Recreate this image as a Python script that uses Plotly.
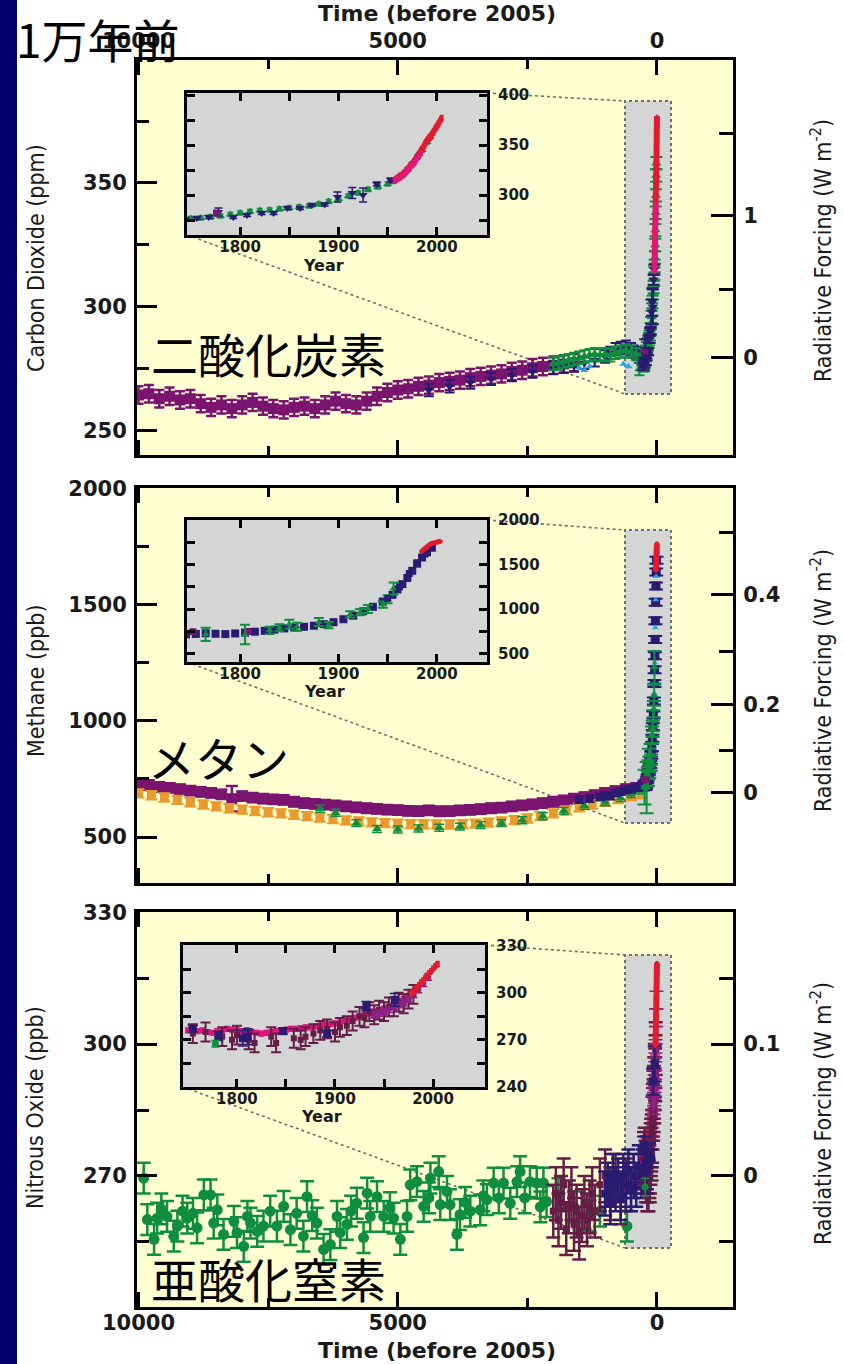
import plotly.graph_objects as go
import numpy as np

W, H = 844, 1364

# ---------------- tick labels ----------------
time_tick_vals = [10000, 5000, 0]
time_tick_text = ["10000", "5000", "0"]
time_minor_vals = [7500, 2500]
year_tick_vals = [1800, 1900, 2000]
year_tick_text = ["1800", "1900", "2000"]
year_minor_vals = [1850, 1950]

co2_left_ticks = [250, 300, 350]
co2_left_minor = [275, 325, 375]
co2_rf_tick_ppm = [279.6, 337.0]
co2_rf_tick_text = ["0", "1"]
co2_rf_minor_ppm = [307.0, 370.0]
co2_inset_ticks = [300, 350, 400]
co2_inset_minor = [275, 325, 375]

ch4_left_ticks = [500, 1000, 1500, 2000]
ch4_left_minor = [750, 1250, 1750]
ch4_rf_tick_ppb = [690, 1069, 1543]
ch4_rf_tick_text = ["0", "0.2", "0.4"]
ch4_rf_minor_ppb = [871, 1297, 1810]
ch4_inset_ticks = [500, 1000, 1500, 2000]
ch4_inset_minor = [750, 1250, 1750]

n2o_left_ticks = [270, 300, 330]
n2o_left_minor = [255, 285, 315]
n2o_rf_tick_ppb = [270, 300]
n2o_rf_tick_text = ["0", "0.1"]
n2o_rf_minor_ppb = [255, 285, 315]
n2o_inset_ticks = [240, 270, 300, 330]
n2o_inset_minor = [255, 285, 315]

# ---------------- CO2 (ppm) ----------------
co2_domec_bp = [10000, 9800, 9600, 9400, 9200, 9000, 8800, 8600, 8400, 8200, 8000, 7800, 7600, 7400,
                7200, 7000, 6800, 6600, 6400, 6200, 6000, 5800, 5600, 5400, 5200, 5000, 4800, 4600,
                4400, 4200, 4000, 3800, 3600, 3400, 3200, 3000, 2800, 2600, 2400, 2200, 2000, 1800, 1600]
co2_domec_ppm = [264.5, 265.0, 263.0, 264.0, 262.5, 263.0, 261.0, 259.5, 260.5, 259.0, 260.5, 261.5,
                 260.0, 259.0, 258.5, 259.5, 260.0, 259.0, 260.5, 262.0, 261.0, 260.5, 262.0, 264.0,
                 265.5, 266.5, 267.0, 268.0, 268.5, 269.5, 270.0, 270.5, 271.5, 272.0, 272.5, 273.0,
                 274.0, 274.5, 275.5, 276.0, 276.5, 277.0, 277.5]
co2_taylor_bp = [4400, 4000, 3600, 3200, 2800, 2400, 2000, 1800, 1600, 1400, 1200, 1000, 900, 800,
                 700, 600, 500, 450, 400, 350, 300]
co2_taylor_ppm = [266.5, 268.0, 269.5, 271.0, 272.5, 274.0, 275.5, 276.0, 276.5, 277.5, 278.5, 280.0,
                  281.5, 283.0, 283.5, 284.0, 283.0, 282.0, 281.5, 280.0, 279.0]
co2_lawlong_bp = [2000, 1900, 1800, 1700, 1600, 1500, 1400, 1300, 1200, 1100, 1000, 900, 800, 700,
                  600, 500, 400, 340, 300, 270]
co2_lawlong_ppm = [277.0, 277.5, 278.0, 278.5, 279.0, 279.5, 280.0, 280.5, 281.0, 280.5, 281.0, 280.5,
                   281.5, 282.0, 282.5, 282.0, 281.0, 275.0, 277.5, 276.5]
co2_cyan_bp = [1500, 1400, 1300, 650, 550]
co2_cyan_ppm = [275.5, 274.5, 276.0, 277.0, 276.0]

co2_law_yr = [1750, 1760, 1770, 1780, 1790, 1800, 1810, 1820, 1830, 1840, 1850, 1860, 1870, 1880, 1890,
              1900, 1910, 1920, 1930, 1940, 1950, 1955, 1960, 1965, 1970, 1975, 1980, 1985, 1990, 1993]
co2_law_ppm = [276.5, 277.0, 278.0, 279.0, 280.5, 282.0, 283.5, 284.5, 285.0, 286.0, 287.0, 288.0, 289.0,
               291.0, 293.5, 296.0, 299.0, 302.0, 305.5, 308.0, 311.0, 313.5, 316.5, 320.0, 325.0, 331.0,
               338.0, 345.0, 353.0, 358.0]
co2_siple_yr = [1744, 1756, 1768, 1778, 1793, 1807, 1822, 1834, 1848, 1861, 1873, 1886, 1899, 1914, 1925, 1939, 1953]
co2_siple_ppm = [276.0, 277.0, 278.0, 283.0, 278.0, 280.0, 282.0, 282.0, 287.0, 287.0, 290.0, 290.5, 298.0,
                 302.0, 300.0, 311.0, 315.0]
co2_siple_err = [1.5, 1.5, 1.5, 4.0, 1.5, 1.5, 1.5, 1.5, 1.5, 1.5, 1.5, 1.5, 5.0, 5.5, 7.0, 2.0, 2.0]
co2_dml_yr = [1776]
co2_dml_ppm = [282.0]
co2_ml_yr = [1958, 1959, 1960, 1961, 1962, 1963, 1964, 1965, 1966, 1967, 1968, 1969, 1970, 1971, 1972, 1973,
             1974, 1975, 1976, 1977, 1978, 1979, 1980, 1981, 1982, 1983, 1984, 1985, 1986, 1987, 1988, 1989,
             1990, 1991, 1992, 1993, 1994, 1995, 1996, 1997, 1998, 1999, 2000, 2001, 2002, 2003, 2004, 2005]
co2_ml_ppm = [315.3, 316.0, 316.9, 317.6, 318.5, 319.0, 319.6, 320.0, 321.4, 322.2, 323.0, 324.6, 325.7,
              326.3, 327.5, 329.7, 330.2, 331.1, 332.0, 333.8, 335.4, 336.8, 338.7, 339.9, 341.1, 342.8,
              344.4, 345.9, 347.2, 348.9, 351.5, 352.9, 354.2, 355.6, 356.4, 357.1, 358.8, 360.5, 362.0,
              363.2, 365.8, 367.2, 368.5, 370.0, 372.0, 373.5, 375.5, 377.0]
co2_sp_yr = [1957, 1960, 1963, 1966, 1969, 1972, 1975, 1978, 1981, 1984]
co2_sp_ppm = [314.0, 315.5, 317.5, 319.5, 322.5, 326.0, 329.5, 333.0, 337.5, 341.5]

# ---------------- CH4 (ppb) ----------------
ch4_purple_bp = [10000, 9800, 9600, 9400, 9200, 9000, 8800, 8600, 8400, 8200, 8000, 7800, 7600, 7400, 7200,
                 7000, 6800, 6600, 6400, 6200, 6000, 5800, 5600, 5400, 5200, 5000, 4800, 4600, 4400, 4200,
                 4000, 3800, 3600, 3400, 3200, 3000, 2800, 2600, 2400, 2200, 2000, 1800, 1600, 1400, 1200,
                 1000, 800, 600, 400]
ch4_purple_ppb = [728, 724, 716, 712, 706, 700, 694, 690, 684, 665, 676, 670, 665, 662, 660, 652, 646, 643,
                  640, 636, 632, 628, 624, 621, 618, 616, 613, 612, 615, 611, 612, 615, 617, 620, 624, 627,
                  632, 636, 641, 646, 652, 658, 665, 672, 680, 690, 698, 706, 712]
ch4_purple_err = [20, 20, 20, 20, 20, 20, 20, 20, 20, 55, 20, 20, 20, 20, 20, 20, 20, 20, 20, 20, 20, 20,
                  20, 20, 20, 20, 20, 20, 20, 20, 20, 20, 20, 20, 20, 20, 20, 20, 20, 20, 20, 20, 20, 20,
                  20, 20, 20, 20, 20]
ch4_orange_bp = [10000, 9750, 9500, 9250, 9000, 8750, 8500, 8250, 8000, 7750, 7500, 7250, 7000, 6750, 6500,
                 6250, 6000, 5750, 5500, 5250, 5000, 4750, 4500, 4250, 4000, 3750, 3500, 3250, 3000, 2750,
                 2500, 2250, 2000, 1750, 1500, 1250, 1000, 750, 500, 300]
ch4_orange_ppb = [688, 680, 670, 660, 650, 640, 632, 624, 618, 612, 607, 602, 596, 590, 584, 578, 572, 567,
                  563, 560, 558, 556, 555, 554, 554, 556, 558, 562, 567, 573, 580, 590, 602, 615, 628, 640,
                  652, 664, 676, 685]
ch4_green_bp = [6500, 6200, 5800, 5400, 5000, 4600, 4200, 3800, 3400, 3000, 2600, 2200, 1800, 1400, 1000,
                700, 500, 350]
ch4_green_ppb = [622, 605, 560, 535, 533, 537, 540, 545, 552, 560, 572, 590, 612, 635, 650, 668, 685, 700]
ch4_navylong_bp = [1500, 1300, 1100, 1000, 900, 800, 700, 600, 500, 400, 300]
ch4_navylong_ppb = [660, 665, 672, 680, 676, 690, 695, 702, 706, 712, 716]

ch4_navy_yr = [1745, 1755, 1765, 1775, 1785, 1795, 1805, 1815, 1825, 1835, 1845, 1855, 1865, 1875, 1885,
               1895, 1905, 1915, 1925, 1935, 1945, 1955, 1960, 1965, 1970, 1975, 1980, 1985, 1990, 1995]
ch4_navy_ppb = [715, 720, 728, 722, 718, 725, 735, 745, 755, 768, 782, 792, 800, 812, 830, 852, 885, 925,
                975, 1025, 1085, 1160, 1220, 1280, 1350, 1430, 1510, 1580, 1640, 1690]
ch4_cyan_yr = [1950, 1962, 1972, 1980, 1988]
ch4_cyan_ppb = [1120, 1250, 1400, 1520, 1620]
ch4_greenind_yr = [1765, 1805, 1830, 1840, 1850, 1858, 1880, 1890, 1912, 1922, 1930, 1945, 1950, 1956]
ch4_greenind_ppb = [715, 713, 760, 790, 830, 800, 855, 820, 940, 965, 1000, 1050, 1110, 1230]
ch4_greenind_err = [75, 110, 40, 40, 50, 45, 45, 35, 35, 35, 45, 35, 45, 70]
ch4_purpleind_yr = [1752, 1808]
ch4_purpleind_ppb = [745, 748]
ch4_red_yr = [1984, 1986, 1988, 1990, 1992, 1994, 1996, 1998, 2000, 2002, 2004]
ch4_red_ppb = [1645, 1665, 1686, 1705, 1722, 1734, 1742, 1750, 1756, 1760, 1763]

# ---------------- N2O (ppb) ----------------
n2o_green_bp = [9900, 9830, 9700, 9640, 9560, 9450, 9320, 9250, 9150, 9060, 8950, 8870, 8740, 8610, 8550,
                8480, 8360, 8160, 8100, 7970, 7900, 7840, 7710, 7590, 7460, 7330, 7200, 7070, 6950, 6820,
                6750, 6650, 6560, 6430, 6300, 6170, 6110, 5980, 5900, 5790, 5660, 5590, 5530, 5400, 5270,
                5150, 5080, 4950, 4820, 4760, 4630, 4500, 4400, 4370, 4210, 4180, 4050, 3990, 3860, 3800,
                3700, 3600, 3410, 3350, 3280, 3150, 3050, 2960, 2830, 2700, 2640, 2550, 2450, 2320, 2250,
                2190, 2130, 1900, 1600, 1300, 1100, 580]
n2o_green_ppb = [269.5, 260.1, 255.6, 260.4, 262.5, 260.8, 256.3, 258.6, 262.0, 260.4, 261.5, 258.2, 265.7,
                 265.7, 259.3, 262.3, 256.7, 259.7, 257.1, 254.0, 260.8, 259.3, 257.4, 258.6, 262.0, 258.6,
                 263.1, 257.8, 261.5, 256.3, 265.3, 261.0, 259.3, 253.3, 254.4, 260.8, 257.1, 259.0, 262.0,
                 263.8, 256.0, 266.1, 260.8, 265.3, 260.8, 262.8, 260.4, 255.6, 260.8, 268.0, 268.7, 263.1,
                 265.0, 269.5, 271.0, 263.5, 266.5, 263.5, 256.7, 261.2, 264.0, 262.0, 262.3, 265.5, 264.6,
                 268.4, 265.0, 268.4, 263.8, 268.7, 271.0, 265.0, 268.7, 268.4, 263.0, 268.4, 264.2, 266.0,
                 263.0, 261.0, 262.0, 258.6]
n2o_maroon_bp = [2000, 1950, 1900, 1850, 1800, 1750, 1700, 1650, 1600, 1550, 1500, 1450, 1400, 1350, 1300,
                 1250, 1200, 1100, 1000, 900, 800, 700, 600]
n2o_maroon_ppb = [262, 266, 260, 264, 268, 258, 263, 266, 259, 262, 257, 261, 264, 260, 263, 266, 262, 268,
                  270, 266, 269, 265, 268]
n2o_navylong_bp = [1000, 950, 900, 850, 800, 750, 700, 650, 600, 550, 500, 450, 400, 350, 300, 270]
n2o_navylong_ppb = [266, 268, 264, 270, 267, 269, 265, 270, 268, 271, 267, 270, 268, 272, 270, 271]

n2o_pink_yr = [1750, 1755, 1760, 1765, 1770, 1775, 1780, 1785, 1790, 1795, 1800, 1805, 1810, 1815, 1820,
               1825, 1830, 1835, 1840, 1845, 1850, 1855, 1860, 1865, 1870, 1875, 1880, 1885, 1890, 1895,
               1900, 1905, 1910, 1915, 1920, 1925, 1930, 1935, 1940, 1945, 1950, 1955, 1960, 1965, 1970, 1975]
n2o_pink_ppb = [276, 276.5, 275.5, 276, 275, 274.5, 275.5, 276, 277, 276.5, 276, 275.5, 276, 275, 274.5,
                274, 274.5, 275, 275.5, 276, 276.5, 277, 277, 277.5, 278, 278, 278.5, 279, 279.5, 280,
                280.5, 281, 282, 283, 284, 285, 286, 287, 288, 289, 290, 291, 293, 294.5, 296, 298]
n2o_maroonind_yr = [1755, 1768, 1785, 1795, 1800, 1812, 1818, 1835, 1840, 1858, 1865, 1870, 1878, 1885, 1892,
                    1900, 1905, 1912, 1918, 1925, 1930, 1935, 1940, 1945, 1950, 1955, 1960, 1965, 1970, 1975, 1980]
n2o_maroonind_ppb = [274, 275, 272, 270, 273, 270, 268, 272, 268, 271, 270, 272, 274, 276, 277, 275, 278, 279,
                     282, 285, 284, 288, 286, 289, 288, 291, 291, 294, 293, 296, 299]
n2o_navyind_yr = [1755, 1781, 1806, 1811, 1847, 1892, 1932, 1961]
n2o_navyind_ppb = [277, 272.5, 271, 272, 275.5, 274, 291.5, 295.5]
n2o_navyind_err = [2, 3, 5, 5, 2, 2, 3, 4]
n2o_greenind_yr = [1778]
n2o_greenind_ppb = [267.5]
n2o_violet_yr = [1940, 1945, 1950, 1955, 1960, 1965, 1970, 1975, 1980, 1985, 1990, 1995]
n2o_violet_ppb = [286, 287, 288, 289.5, 291, 292.5, 294, 296, 299, 302, 306, 310]
n2o_red_yr = [1978, 1980, 1982, 1984, 1986, 1988, 1990, 1992, 1994, 1996, 1998, 2000, 2002, 2004, 2005]
n2o_red_ppb = [299.5, 301, 302, 303.5, 305, 306.5, 308, 309.5, 311, 312.5, 313.8, 315.5, 316.8, 318.0, 318.5]

# ---------------- styling ----------------
PURPLE = "#7A1470"
NAVY = "#2A1B72"
GREEN = "#0E8E3E"
CYAN = "#2AA6E6"
RED = "#E41A2E"
PINK = "#E2157F"
ORANGE = "#E99A2C"
MAROON = "#651C45"
VIOLET = "#8B2284"
YELLOW = "#FFFFD2"
GRAY = "#D3D6D5"
TXT = "#1a1a1a"
CJK = "Noto Sans CJK JP"
NARROW = "Liberation Sans Narrow, DejaVu Sans Condensed, Arial Narrow, sans-serif"
BOLD = "DejaVu Sans"


def px(x):
    return x / W


def py(y):
    return 1 - y / H


MX0, MX1 = 137, 733
P = {1: (60, 455), 2: (488, 883), 3: (912, 1307)}
INS = {1: (187, 487, 93, 235), 2: (187, 487, 520, 662), 3: (183, 485, 945, 1087)}
GBOX = {1: (625, 671, 101, 394), 2: (625, 671, 530, 823), 3: (625, 671, 955, 1248)}

fig = go.Figure()


def sc(x, y, err, color, symbol, size, xa, ya, ew=3, et=1.5, line_w=0):
    kw = dict(x=list(x), y=list(y), xaxis=xa, yaxis=ya, showlegend=False, hoverinfo="skip",
              marker=dict(color=color, symbol=symbol, size=size, line=dict(width=0)))
    if line_w:
        kw["mode"] = "lines+markers"
        kw["line"] = dict(color=color, width=line_w)
    else:
        kw["mode"] = "markers"
    if err is not None:
        if np.isscalar(err):
            kw["error_y"] = dict(type="constant", value=err, color=color, thickness=et, width=ew)
        else:
            kw["error_y"] = dict(type="data", array=list(err), color=color, thickness=et, width=ew)
    fig.add_trace(go.Scatter(**kw))


def bp(years):
    return [2005 - v for v in years]


# ---- CO2 main ----
sc(co2_domec_bp, co2_domec_ppm, 3.5, PURPLE, "square", 11, "x", "y", ew=5, et=2.5)
sc(co2_taylor_bp, co2_taylor_ppm, 2.5, NAVY, "triangle-down", 9, "x", "y", ew=5, et=2)
sc(co2_lawlong_bp, co2_lawlong_ppm, 2.5, GREEN, "triangle-up", 9, "x", "y", ew=5, et=2)
sc(co2_cyan_bp, co2_cyan_ppm, None, CYAN, "triangle-up", 7, "x", "y")
sc(bp(co2_law_yr), co2_law_ppm, 2.5, GREEN, "triangle-up", 9, "x", "y", ew=6, et=2)
sc(bp(co2_siple_yr), co2_siple_ppm, co2_siple_err, NAVY, "triangle-down", 9, "x", "y", ew=6, et=2)
sc(bp(co2_dml_yr), co2_dml_ppm, None, PURPLE, "square", 6, "x", "y")
sc(bp(co2_ml_yr), co2_ml_ppm, None, RED, "circle", 3, "x", "y", line_w=6)
sc(bp(co2_sp_yr), co2_sp_ppm, None, PINK, "circle", 4, "x", "y", line_w=5)
# ---- CO2 inset ----
sc(co2_law_yr, co2_law_ppm, 2, GREEN, "triangle-up", 8, "x4", "y4", ew=3)
sc(co2_siple_yr, co2_siple_ppm, co2_siple_err, NAVY, "triangle-down", 8, "x4", "y4", ew=4)
sc(co2_dml_yr, co2_dml_ppm, None, PURPLE, "square", 7, "x4", "y4")
sc(co2_ml_yr, co2_ml_ppm, 2.5, RED, "circle", 4, "x4", "y4", ew=2, line_w=5)
sc(co2_sp_yr, co2_sp_ppm, 2.0, PINK, "circle", 4, "x4", "y4", ew=2, line_w=5)

# ---- CH4 main ----
sc(ch4_purple_bp, ch4_purple_ppb, ch4_purple_err, PURPLE, "square", 11, "x2", "y2", ew=6, et=2.5)
sc(ch4_orange_bp, ch4_orange_ppb, 18, ORANGE, "square", 9, "x2", "y2", ew=6, et=2)
sc(ch4_green_bp, ch4_green_ppb, 15, GREEN, "triangle-up", 9, "x2", "y2", ew=5)
sc(ch4_navylong_bp, ch4_navylong_ppb, 15, NAVY, "square", 8, "x2", "y2", ew=5)
sc(bp(ch4_navy_yr), ch4_navy_ppb, 15, NAVY, "square", 9, "x2", "y2", ew=7, et=2)
sc(bp(ch4_cyan_yr), ch4_cyan_ppb, None, CYAN, "triangle-up", 6, "x2", "y2")
sc(bp(ch4_greenind_yr), ch4_greenind_ppb, ch4_greenind_err, GREEN, "triangle-up", 8, "x2", "y2", ew=7, et=2)
sc(bp(ch4_purpleind_yr), ch4_purpleind_ppb, None, PURPLE, "square", 6, "x2", "y2")
sc(bp(ch4_red_yr), ch4_red_ppb, None, RED, "circle", 4, "x2", "y2", line_w=6)
# ---- CH4 inset ----
sc(ch4_navy_yr, ch4_navy_ppb, 12, NAVY, "square", 8, "x5", "y5", ew=3)
sc(ch4_purpleind_yr, ch4_purpleind_ppb, None, PURPLE, "square", 7, "x5", "y5")
sc(ch4_greenind_yr, ch4_greenind_ppb, ch4_greenind_err, GREEN, "triangle-up", 7, "x5", "y5", ew=5, et=2)
sc(ch4_cyan_yr, ch4_cyan_ppb, None, NAVY, "square", 7, "x5", "y5")
sc(ch4_red_yr, ch4_red_ppb, None, RED, "circle", 4, "x5", "y5", line_w=5)

# ---- N2O main ----
sc(n2o_green_bp, n2o_green_ppb, 3.5, GREEN, "circle", 11, "x3", "y3", ew=7, et=2.5)
sc(n2o_maroon_bp, n2o_maroon_ppb, 6, MAROON, "square", 7, "x3", "y3", ew=7, et=2.5)
sc(n2o_navylong_bp, n2o_navylong_ppb, 5, NAVY, "square", 8, "x3", "y3", ew=7, et=2.5)
sc(bp(n2o_pink_yr), n2o_pink_ppb, 1.5, PINK, "circle", 6, "x3", "y3", ew=5)
sc(bp(n2o_maroonind_yr), n2o_maroonind_ppb, 6, MAROON, "square", 7, "x3", "y3", ew=7, et=2.5)
sc(bp(n2o_violet_yr), n2o_violet_ppb, 2, VIOLET, "circle", 6, "x3", "y3", ew=7)
sc(bp(n2o_navyind_yr), n2o_navyind_ppb, n2o_navyind_err, NAVY, "square", 8, "x3", "y3", ew=7, et=2)
sc(bp(n2o_greenind_yr), n2o_greenind_ppb, 2, GREEN, "circle", 7, "x3", "y3", ew=4)
sc(bp(n2o_red_yr), n2o_red_ppb, None, RED, "circle", 4, "x3", "y3", line_w=6)
# ---- N2O inset ----
sc(n2o_pink_yr, n2o_pink_ppb, 1.5, PINK, "circle", 6, "x6", "y6", ew=3)
sc(n2o_maroonind_yr, n2o_maroonind_ppb, 6, MAROON, "square", 6, "x6", "y6", ew=5, et=2)
sc(n2o_violet_yr, n2o_violet_ppb, 2, VIOLET, "circle", 6, "x6", "y6", ew=4)
sc(n2o_navyind_yr, n2o_navyind_ppb, n2o_navyind_err, NAVY, "square", 8, "x6", "y6", ew=5)
sc(n2o_greenind_yr, n2o_greenind_ppb, 2, GREEN, "circle", 7, "x6", "y6", ew=4)
sc(n2o_red_yr, n2o_red_ppb, 1.5, RED, "circle", 4, "x6", "y6", ew=2, line_w=5)

# invisible anchors for right-hand forcing axes
for ya, yv in (("y7", 300), ("y8", 1000), ("y9", 280)):
    xa = {"y7": "x", "y8": "x2", "y9": "x3"}[ya]
    fig.add_trace(go.Scatter(x=[5000], y=[yv], xaxis=xa, yaxis=ya, mode="markers",
                             marker=dict(opacity=0), showlegend=False, hoverinfo="skip"))

# ---------------- axes ----------------
TF = dict(family=BOLD, size=21, color=TXT, weight="bold")
TFI = dict(family=BOLD, size=15, color=TXT, weight="bold")


def minor(vals, ln):
    return dict(tickmode="array", tickvals=vals, ticks="inside", ticklen=ln, tickwidth=3, tickcolor="black")


def main_x(k, side, show, standoff):
    return dict(domain=[px(MX0), px(MX1)], anchor="y" if k == 1 else "y%d" % k,
                range=[10029, -1466], side=side, showticklabels=show, automargin=False,
                tickmode="array", tickvals=time_tick_vals, ticktext=time_tick_text,
                ticks="inside", ticklen=15, tickwidth=3, tickcolor="black",
                minor=minor(time_minor_vals, 9), showline=True, linewidth=3, linecolor="black",
                mirror="ticks", showgrid=False, zeroline=False, tickfont=TF, ticklabelstandoff=standoff)


def main_y(k, rng, tv, mv):
    top, bot = P[k]
    return dict(domain=[py(bot), py(top)], anchor="x" if k == 1 else "x%d" % k, range=rng,
                automargin=False, tickmode="array", tickvals=tv, ticktext=[str(v) for v in tv],
                ticks="inside", ticklen=20, tickwidth=3, tickcolor="black", minor=minor(mv, 12),
                showline=True, linewidth=3, linecolor="black", mirror=True, showgrid=False,
                zeroline=False, tickfont=TF, ticklabelstandoff=3)


def rf_y(k, rng, tv, tt, mv):
    return dict(overlaying="y" if k == 1 else "y%d" % k, anchor="x" if k == 1 else "x%d" % k,
                side="right", range=rng, automargin=False, tickmode="array", tickvals=tv, ticktext=tt,
                ticks="inside", ticklen=22, tickwidth=3, tickcolor="black", minor=minor(mv, 14),
                showline=True, linewidth=3, linecolor="black", showgrid=False, zeroline=False,
                tickfont=TF, ticklabelstandoff=3)


def ins_x(k, rng):
    x0, x1, t, b = INS[k]
    return dict(domain=[px(x0), px(x1)], anchor="y%d" % (k + 3), range=rng, automargin=False,
                tickmode="array", tickvals=year_tick_vals, ticktext=year_tick_text,
                ticks="inside", ticklen=8, tickwidth=3, tickcolor="black", minor=minor(year_minor_vals, 8),
                showline=True, linewidth=3, linecolor="black", mirror="ticks", showgrid=False,
                zeroline=False, tickfont=TFI, ticklabelstandoff=-4)


def ins_y(k, rng, tv, mv):
    x0, x1, t, b = INS[k]
    return dict(domain=[py(b), py(t)], anchor="x%d" % (k + 3), range=rng, side="right", automargin=False,
                tickmode="array", tickvals=tv, ticktext=[str(v) for v in tv],
                ticks="inside", ticklen=8, tickwidth=3, tickcolor="black", minor=minor(mv, 8),
                showline=True, linewidth=3, linecolor="black", mirror="ticks", showgrid=False,
                zeroline=False, tickfont=TFI, ticklabelstandoff=5)


co2_rng = [240.3, 399.6]
ch4_rng = [302.6, 2001]
n2o_rng = [240.2, 330.05]

layout_axes = dict(
    xaxis=main_x(1, "top", True, 1), xaxis2=main_x(2, "bottom", False, 0), xaxis3=main_x(3, "bottom", True, -5),
    yaxis=main_y(1, co2_rng, co2_left_ticks, co2_left_minor),
    yaxis2=main_y(2, ch4_rng, ch4_left_ticks, ch4_left_minor),
    yaxis3=main_y(3, n2o_rng, n2o_left_ticks, n2o_left_minor),
    yaxis7=rf_y(1, co2_rng, co2_rf_tick_ppm, co2_rf_tick_text, co2_rf_minor_ppm),
    yaxis8=rf_y(2, ch4_rng, ch4_rf_tick_ppb, ch4_rf_tick_text, ch4_rf_minor_ppb),
    yaxis9=rf_y(3, n2o_rng, n2o_rf_tick_ppb, n2o_rf_tick_text, n2o_rf_minor_ppb),
    xaxis4=ins_x(1, [1746, 2051]), xaxis5=ins_x(2, [1746, 2051]), xaxis6=ins_x(3, [1745, 2053]),
    yaxis4=ins_y(1, [260, 402], co2_inset_ticks, co2_inset_minor),
    yaxis5=ins_y(2, [404, 2002], ch4_inset_ticks, ch4_inset_minor),
    yaxis6=ins_y(3, [239.9, 330.5], n2o_inset_ticks, n2o_inset_minor),
)

# ---------------- shapes ----------------
shapes = [dict(type="rect", xref="paper", yref="paper", x0=0, x1=px(17), y0=0, y1=1,
               fillcolor="#000070", line=dict(width=0), layer="below")]
for k in (1, 2, 3):
    top, bot = P[k]
    xr = "x domain" if k == 1 else "x%d domain" % k
    yr = "y domain" if k == 1 else "y%d domain" % k

    def dx(v):
        return (v - MX0) / (MX1 - MX0)

    def dy(v):
        return (bot - v) / (bot - top)

    gx0, gx1, gy0, gy1 = GBOX[k]
    ix0, ix1, it, ib = INS[k]
    shapes.append(dict(type="rect", xref=xr, yref=yr, x0=0, x1=1, y0=0, y1=1, fillcolor=YELLOW,
                       line=dict(width=0), layer="below"))
    shapes.append(dict(type="rect", xref=xr, yref=yr, x0=dx(gx0), x1=dx(gx1), y0=dy(gy1), y1=dy(gy0),
                       fillcolor=GRAY, line=dict(color="#6f6f6f", width=2, dash="dot"), layer="below"))
    shapes.append(dict(type="line", xref=xr, yref=yr, x0=dx(ix1), y0=dy(it), x1=dx(gx0), y1=dy(gy0),
                       line=dict(color="#6f6f6f", width=1.6, dash="dot"), layer="below"))
    shapes.append(dict(type="line", xref=xr, yref=yr, x0=dx(ix0), y0=dy(ib), x1=dx(gx0), y1=dy(gy1),
                       line=dict(color="#6f6f6f", width=1.6, dash="dot"), layer="below"))
    ixa = "x%d domain" % (k + 3)
    iya = "y%d domain" % (k + 3)
    shapes.append(dict(type="rect", xref=ixa, yref=iya, x0=0, x1=1, y0=0, y1=1, fillcolor=GRAY,
                       line=dict(width=0), layer="below"))


# ---------------- annotations ----------------
def ann(text, xp, yp, size, family, xanchor="center", angle=0, bold=False, color=TXT):
    return dict(text=text, x=px(xp), y=py(yp), xref="paper", yref="paper", showarrow=False,
                xanchor=xanchor, yanchor="middle", textangle=angle,
                font=dict(family=family, size=size, color=color, weight="bold" if bold else "normal"))


annotations = [
    ann("Time (before 2005)", 437, 14, 22, BOLD, bold=True),
    ann("Time (before 2005)", 437, 1350, 22, BOLD, bold=True),
    ann("Year", 323, 265, 16, BOLD, bold=True),
    ann("Year", 324, 691, 16, BOLD, bold=True),
    ann("Year", 321, 1116, 16, BOLD, bold=True),
    ann("Carbon Dioxide (ppm)", 36, 258, 23, NARROW, angle=-90),
    ann("Methane (ppb)", 36, 681, 23, NARROW, angle=-90),
    ann("Nitrous Oxide (ppb)", 35, 1108, 23, NARROW, angle=-90),
    ann("Radiative Forcing (W m<sup>-2</sup>)", 821, 251, 23, NARROW, angle=-90),
    ann("Radiative Forcing (W m<sup>-2</sup>)", 821, 681, 23, NARROW, angle=-90),
    ann("Radiative Forcing (W m<sup>-2</sup>)", 821, 1114, 23, NARROW, angle=-90),
    ann("1万年前", 14, 38, 46, CJK, xanchor="left", color="black"),
    ann("二酸化炭素", 149, 352, 47, CJK, xanchor="left", color="black"),
    ann("メタン", 146, 757, 47, CJK, xanchor="left", color="black"),
    ann("亜酸化窒素", 149, 1277, 47, CJK, xanchor="left", color="black"),
]

fig.update_layout(template="none", width=W, height=H, margin=dict(l=0, r=0, t=0, b=0),
                  paper_bgcolor="white", plot_bgcolor="rgba(0,0,0,0)", showlegend=False,
                  shapes=shapes, annotations=annotations, **layout_axes)

fig.write_html("out.html", config={"displayModeBar": False},
               post_script="document.body.style.margin='0px';document.body.style.overflow='hidden';")
